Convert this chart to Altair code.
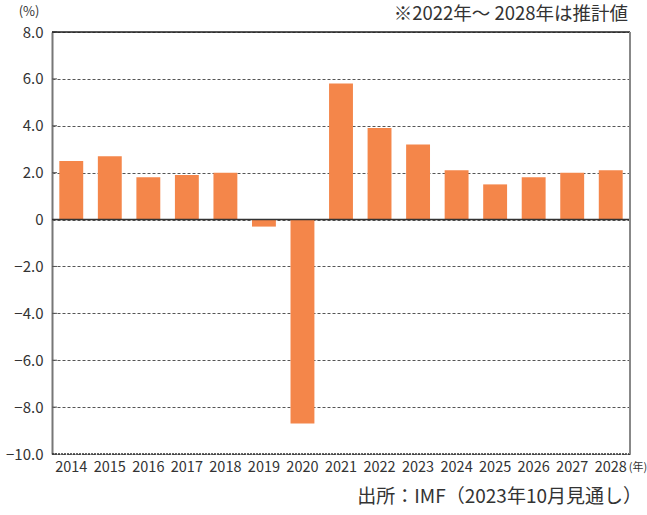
import altair as alt
import pandas as pd

years = ['2014', '2015', '2016', '2017', '2018', '2019', '2020', '2021',
         '2022', '2023', '2024', '2025', '2026', '2027', '2028']
growth = [2.5, 2.7, 1.8, 1.9, 2.0, -0.3, -8.7, 5.8, 3.9, 3.2, 2.1, 1.5, 1.8, 2.0, 2.1]
y_ticks = [-10, -8, -6, -4, -2, 0, 2, 4, 6, 8]

unit_label = '(%)'
note_label = '※2022年～ 2028年は推計値'
source_label = '出所：IMF（2023年10月見通し）'
year_unit = '(年)'

W, H = 578, 422
FONT = 'Noto Sans CJK JP'
BAR = '#F4864A'

df = pd.DataFrame({'year': years, 'growth': growth})
ticks_df = pd.DataFrame({'v': y_ticks})

y_scale = alt.Scale(domain=[-10, 8], nice=False)

bars = alt.Chart(df).mark_bar(color=BAR).encode(
    x=alt.X('year:N', sort=years, title=None,
            scale=alt.Scale(paddingInner=0.38, paddingOuter=0.19),
            axis=alt.Axis(labelAngle=0, ticks=False, domain=False,
                          labelFontSize=14.5, labelColor='#333', labelPadding=6,
                          labelFont=FONT)),
    y=alt.Y('growth:Q', scale=y_scale, title=None,
            axis=alt.Axis(values=y_ticks,
                          labelExpr="datum.value == 0 ? '0' : format(datum.value, '.1f')",
                          grid=True, gridDash=[3, 2], gridColor='#555', gridWidth=1,
                          domainColor='#777', domainWidth=2, ticks=False,
                          labelPadding=9, labelFontSize=15, labelColor='#333',
                          labelFont=FONT)),
)

tick_marks = alt.Chart(ticks_df).mark_rule(color='#555', strokeWidth=1).encode(
    y=alt.Y('v:Q', scale=y_scale), x=alt.value(0), x2=alt.value(5)
)

zero = alt.Chart(pd.DataFrame({'v': [0]})).mark_rule(color='#333', strokeWidth=1.5).encode(
    y=alt.Y('v:Q', scale=y_scale))
top = alt.Chart(pd.DataFrame({'v': [8]})).mark_rule(color='#222', strokeWidth=1.5).encode(
    y=alt.Y('v:Q', scale=y_scale))
bottom = alt.Chart(pd.DataFrame({'v': [-10]})).mark_rule(color='#333', strokeWidth=1.5,
                                                         strokeDash=[2, 1]).encode(
    y=alt.Y('v:Q', scale=y_scale))
right = alt.Chart(pd.DataFrame({'a': [-10], 'b': [8]})).mark_rule(color='#888', strokeWidth=2).encode(
    x=alt.value(W), y=alt.Y('a:Q', scale=y_scale), y2='b:Q')


def label(text, x, y, size, align):
    return alt.Chart(pd.DataFrame({'t': [text]})).mark_text(
        font=FONT, fontSize=size, color='#333', align=align, baseline='middle'
    ).encode(text='t:N', x=alt.value(x), y=alt.value(y))


unit_t = label(unit_label, -23, -20, 13, 'center')
note_t = label(note_label, 576, -18, 18.5, 'right')
source_t = label(source_label, 590, 465, 19, 'right')
year_t = label(year_unit, 586, 436, 11, 'center')

chart = alt.layer(bars, tick_marks, zero, top, bottom, right,
                  unit_t, note_t, source_t, year_t).properties(
    width=W, height=H,
    autosize=alt.AutoSizeParams(type='none'),
    padding={'left': 52, 'top': 32, 'right': 17, 'bottom': 61},
).configure_view(stroke=None).configure(font=FONT, background='white')

chart.save('out.html', embed_options={'renderer': 'svg', 'actions': False})
